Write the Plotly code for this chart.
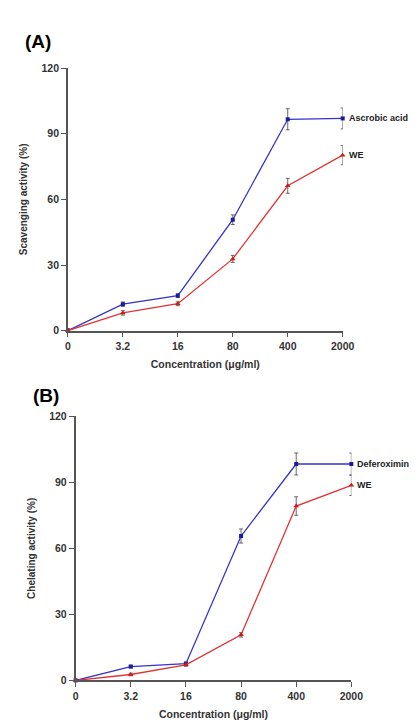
import plotly.graph_objects as go

categories = ["0", "3.2", "16", "80", "400", "2000"]

# Panel A: scavenging activity (%)
a_std = [0, 12.1, 16.0, 50.7, 96.6, 97.0]
a_std_err = [0.8, 1.0, 0.8, 2.2, 4.8, 4.8]
a_we = [0, 8.1, 12.3, 32.8, 66.2, 80.2]
a_we_err = [0.8, 1.0, 0.9, 1.6, 3.4, 4.4]

# Panel B: chelating activity (%)
b_std = [0, 6.3, 7.6, 65.6, 98.3, 98.3]
b_std_err = [0.5, 0.6, 0.8, 3.2, 5.0, 5.0]
b_we = [0, 2.7, 7.1, 20.7, 79.2, 88.6]
b_we_err = [0.5, 0.6, 0.7, 1.0, 4.2, 4.6]

y_ticks = [0, 30, 60, 90, 120]

BLUE = "#3434c8"
RED = "#e03434"
AXIS = "#555555"
TXT = "#333333"
FONT = "Liberation Sans"

fig = go.Figure()

def add_pair(std, std_err, we, we_err, xa, ya):
    fig.add_trace(go.Scatter(
        x=categories, y=std, xaxis=xa, yaxis=ya, mode="lines+markers",
        line=dict(color=BLUE, width=1.3),
        marker=dict(symbol="square", size=4, color="#1a1aa0"),
        error_y=dict(type="data", array=std_err, color="#444444", thickness=0.8, width=2),
        cliponaxis=False, showlegend=False))
    fig.add_trace(go.Scatter(
        x=categories, y=we, xaxis=xa, yaxis=ya, mode="lines+markers",
        line=dict(color=RED, width=1.3),
        marker=dict(symbol="triangle-up", size=5, color="#d01818"),
        error_y=dict(type="data", array=we_err, color="#444444", thickness=0.8, width=2),
        cliponaxis=False, showlegend=False))

add_pair(a_std, a_std_err, a_we, a_we_err, "x", "y")
add_pair(b_std, b_std_err, b_we, b_we_err, "x2", "y2")

def xaxis(domain, anchor):
    return dict(domain=domain, anchor=anchor, type="category", range=[0, 5],
                showline=True, linecolor=AXIS, linewidth=1.6, ticks="outside",
                ticklen=5, tickwidth=1.4, tickcolor=AXIS, showgrid=False, zeroline=False,
                tickfont=dict(family=FONT, size=10.5, color=TXT, weight="bold"),
                title=dict(text="<b>Concentration (μg/ml)</b>", standoff=10,
                           font=dict(family=FONT, size=10.5, color=TXT)))

def yaxis(domain, anchor, title):
    return dict(domain=domain, anchor=anchor, range=[0, 120], tickvals=y_ticks,
                showline=True, linecolor=AXIS, linewidth=1.6, ticks="outside",
                ticklen=5, tickwidth=1.4, tickcolor=AXIS, showgrid=False, zeroline=False,
                tickfont=dict(family=FONT, size=10.5, color=TXT, weight="bold"),
                title=dict(text="<b>" + title + "</b>", standoff=12,
                           font=dict(family=FONT, size=10, color=TXT)))

W, H = 419, 722
fig.update_layout(
    width=W, height=H, margin=dict(l=0, r=0, t=0, b=0),
    paper_bgcolor="white", plot_bgcolor="white",
    xaxis=xaxis([59 / W, 344 / W], "y"),
    yaxis=yaxis([1 - 322 / H, 1 - 55 / H], "x", "Scavenging activity (%)"),
    xaxis2=xaxis([67 / W, 353 / W], "y2"),
    yaxis2=yaxis([1 - 677.7 / H, 1 - 409 / H], "x2", "Chelating activity (%)"),
)

ann = []
last = len(categories) - 1
def lab(text, xa, ya, yv):
    ann.append(dict(text="<b>" + text + "</b>", x=last, y=yv, xref=xa, yref=ya,
                    xanchor="left", yanchor="middle", xshift=4, showarrow=False,
                    font=dict(family=FONT, size=9, color="#222222")))

lab("Ascrobic acid", "x", "y", a_std[-1])
lab("WE", "x", "y", a_we[-1])
lab("Deferoximin", "x2", "y2", b_std[-1])
lab("WE", "x2", "y2", b_we[-1])

ann.append(dict(text="<b>(A)</b>", x=12 / W, y=1 - 28 / H, xref="paper", yref="paper",
                xanchor="left", yanchor="middle", showarrow=False,
                font=dict(family=FONT, size=19, color="black")))
ann.append(dict(text="<b>(B)</b>", x=21 / W, y=1 - 388 / H, xref="paper", yref="paper",
                xanchor="left", yanchor="middle", showarrow=False,
                font=dict(family=FONT, size=19, color="black")))
fig.update_layout(annotations=ann)

fig.write_html("out.html")
